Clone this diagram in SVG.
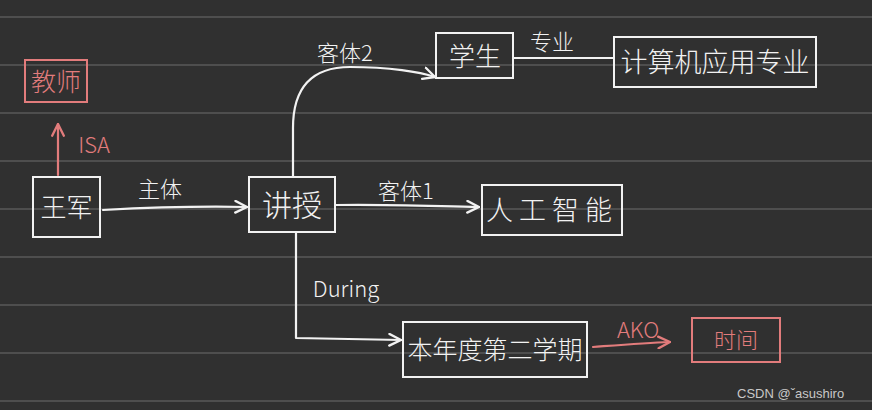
<svg xmlns="http://www.w3.org/2000/svg" width="872" height="410" viewBox="0 0 872 410">
<style>
.bg{fill:#303030}
.rule{stroke:#595959;stroke-width:1.5}
.box{fill:none;stroke:#f2f2f2;stroke-width:2}
.pbox{fill:none;stroke:#e27c7c;stroke-width:2}
.wl{fill:none;stroke:#f2f2f2;stroke-width:2.2;stroke-linecap:round;stroke-linejoin:round}
.pl{fill:none;stroke:#e27c7c;stroke-width:2.2;stroke-linecap:round;stroke-linejoin:round}
.t{font-family:"Noto Sans CJK SC","Liberation Sans",sans-serif;fill:#f2f2f2;text-anchor:middle;font-weight:300}
.pt{font-family:"Noto Sans CJK SC","Liberation Sans",sans-serif;fill:#e27c7c;text-anchor:middle;font-weight:300}
.wm{font-family:"Liberation Sans",Arial,sans-serif;fill:#c8c8c8;font-size:13px}
</style>
<defs>
<marker id="aw" viewBox="0 0 12 12" refX="11" refY="6" markerWidth="14" markerHeight="14" markerUnits="userSpaceOnUse" orient="auto">
<path d="M1,1 L11,6 L1,11" fill="none" stroke="#f2f2f2" stroke-width="2" stroke-linecap="round" stroke-linejoin="round"/>
</marker>
<marker id="ap" viewBox="0 0 12 12" refX="11" refY="6" markerWidth="14" markerHeight="14" markerUnits="userSpaceOnUse" orient="auto">
<path d="M1,1 L11,6 L1,11" fill="none" stroke="#e27c7c" stroke-width="2" stroke-linecap="round" stroke-linejoin="round"/>
</marker>
</defs>
<rect class="bg" x="0" y="0" width="872" height="410"/>
<g id="rules">
<line class="rule" x1="0" y1="17" x2="872" y2="17"/>
<line class="rule" x1="0" y1="65" x2="872" y2="65"/>
<line class="rule" x1="0" y1="113" x2="872" y2="113"/>
<line class="rule" x1="0" y1="161" x2="872" y2="161"/>
<line class="rule" x1="0" y1="209" x2="872" y2="209"/>
<line class="rule" x1="0" y1="257" x2="872" y2="257"/>
<line class="rule" x1="0" y1="305" x2="872" y2="305"/>
<line class="rule" x1="0" y1="353" x2="872" y2="353"/>
<line class="rule" x1="0" y1="401" x2="872" y2="401"/>
</g>
<g id="connectors">
<path class="pl" d="M58,175 L58,124" marker-end="url(#ap)"/>
<text class="pt" x="94" y="153" font-size="22">ISA</text>
<path class="wl" d="M103,210 C140,208 200,206 247,207" marker-end="url(#aw)"/>
<text class="t" x="160" y="197" font-size="22">主体</text>
<path class="wl" d="M293,177 L293,128 C293,88 312,67 350,67 C390,67 420,72 435,77" marker-end="url(#aw)"/>
<text class="t" x="345" y="61" font-size="22">客体2</text>
<path class="wl" d="M336,205 C380,204 430,206 479,207" marker-end="url(#aw)"/>
<text class="t" x="406" y="199" font-size="22">客体1</text>
<path class="wl" d="M296,232 L296,338 L401,340" marker-end="url(#aw)"/>
<text class="t" x="346" y="297" font-size="22">During</text>
<path class="wl" d="M513,58 L614,58"/>
<text class="t" x="552" y="50" font-size="22">专业</text>
<path class="pl" d="M593,347 C620,345 645,343 670,342" marker-end="url(#ap)"/>
<text class="pt" x="638" y="338" font-size="22">AKO</text>
</g>
<g id="node-jiaoshi">
<rect class="pbox" x="25" y="60" width="62" height="42"/>
<text class="pt" x="56" y="91" font-size="25">教师</text>
</g>
<g id="node-wangjun">
<rect class="box" x="33" y="177" width="67" height="60"/>
<text class="t" x="66.5" y="217" font-size="26">王军</text>
</g>
<g id="node-jiangshou">
<rect class="box" x="249" y="177" width="86" height="55"/>
<text class="t" x="292" y="216" font-size="30">讲授</text>
</g>
<g id="node-xuesheng">
<rect class="box" x="436" y="33" width="77" height="45"/>
<text class="t" x="475" y="66" font-size="26">学生</text>
</g>
<g id="node-jisuanji">
<rect class="box" x="614" y="37" width="202" height="50"/>
<text class="t" x="715" y="72" font-size="27">计算机应用专业</text>
</g>
<g id="node-rengongzhineng">
<rect class="box" x="482" y="185" width="140" height="50"/>
<text class="t" x="552" y="220" font-size="27" letter-spacing="6">人工智能</text>
</g>
<g id="node-xueqi">
<rect class="box" x="403" y="322" width="184" height="55"/>
<text class="t" x="495" y="359" font-size="25">本年度第二学期</text>
</g>
<g id="node-shijian">
<rect class="pbox" x="692" y="318" width="88" height="44"/>
<text class="pt" x="736" y="348" font-size="22">时间</text>
</g>
<text class="wm" x="737" y="398">CSDN @ˇasushiro</text>
</svg>
